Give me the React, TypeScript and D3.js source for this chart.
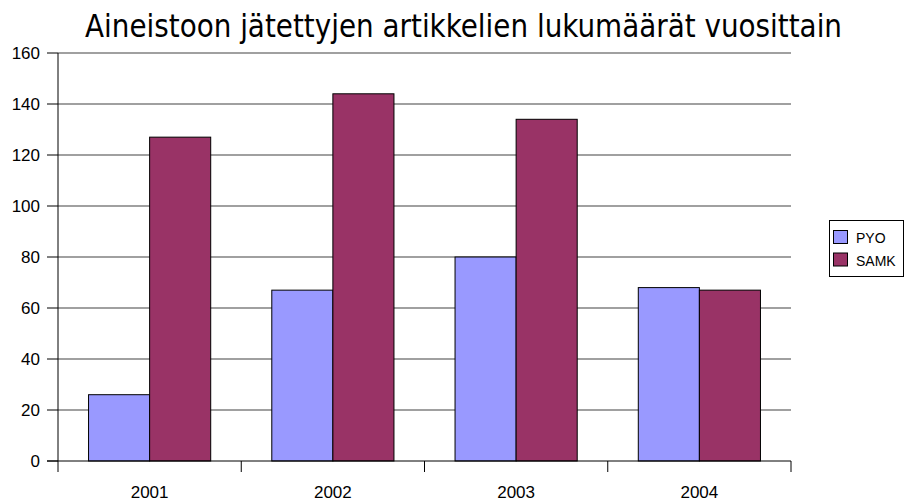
import React from 'react';
import * as d3 from 'd3';

const years = ['2001', '2002', '2003', '2004'];
const seriesNames = ['PYO', 'SAMK'];
const pyoValues = [26, 67, 80, 68];
const samkValues = [127, 144, 134, 67];
const yTicks = [0, 20, 40, 60, 80, 100, 120, 140, 160];
const colors = ['#9999FF', '#993366'];
const titleText = 'Aineistoon jätettyjen artikkelien lukumäärät vuosittain';

const W = 905;
const H = 502;
const plot = { left: 58, right: 791, top: 53, bottom: 461 };
const labelFont = '"Liberation Sans", Arial, sans-serif';

const App: React.FC = () => {
  const x0 = d3.scaleBand<string>().domain(years).range([plot.left, plot.right]).padding(0);
  const x1 = d3.scaleBand<string>().domain(seriesNames).range([0, x0.bandwidth()]).paddingInner(0).paddingOuter(0.5);
  const y = d3.scaleLinear().domain([0, 160]).range([plot.bottom, plot.top]);

  const rows = years.map((yr, i) => ({ year: yr, values: [pyoValues[i], samkValues[i]] }));
  const catEdges = [...years.map(yr => x0(yr)!), plot.right];

  return (
    <svg width={W} height={H} style={{ position: 'absolute', left: 0, top: 0, background: '#fff' }}>
      <text
        x={463.5}
        y={37}
        textAnchor="middle"
        fontFamily='"DejaVu Sans Condensed", "DejaVu Sans", sans-serif'
        fontSize={32}
        textLength={757}
        lengthAdjust="spacingAndGlyphs"
        fill="#000"
      >
        {titleText}
      </text>

      {/* gridlines */}
      {yTicks.filter(t => t > 0).map(t => (
        <line key={t} x1={plot.left} x2={plot.right} y1={y(t)} y2={y(t)} stroke="#808080" strokeWidth={1.5} />
      ))}

      {/* bars */}
      {rows.map(r => (
        <g key={r.year} transform={`translate(${x0(r.year)},0)`}>
          {r.values.map((v, j) => (
            <rect
              key={seriesNames[j]}
              x={x1(seriesNames[j])}
              y={y(v)}
              width={x1.bandwidth()}
              height={y(0) - y(v)}
              fill={colors[j]}
              stroke="#000"
              strokeWidth={1}
            />
          ))}
        </g>
      ))}

      {/* axes */}
      <line x1={plot.left} x2={plot.left} y1={plot.top} y2={plot.bottom} stroke="#000" />
      <line x1={47} x2={plot.right} y1={plot.bottom} y2={plot.bottom} stroke="#000" />
      {yTicks.map(t => (
        <g key={t}>
          <line x1={47} x2={plot.left} y1={y(t)} y2={y(t)} stroke="#000" />
          <text x={40} y={y(t) + 6} textAnchor="end" fontFamily={labelFont} fontSize={17} fill="#000">{t}</text>
        </g>
      ))}
      {catEdges.map((xe, i) => (
        <line key={i} x1={xe} x2={xe} y1={plot.bottom} y2={plot.bottom + 11} stroke="#000" />
      ))}
      {years.map(yr => (
        <text key={yr} x={x0(yr)! + x0.bandwidth() / 2} y={498} textAnchor="middle" fontFamily={labelFont} fontSize={17} fill="#000">{yr}</text>
      ))}

      {/* legend */}
      <rect x={829.5} y={220.5} width={74} height={56} fill="#fff" stroke="#000" />
      {seriesNames.map((s, i) => (
        <g key={s} transform={`translate(0,${i * 22.5})`}>
          <rect x={833.5} y={230.5} width={14} height={13} fill={colors[i]} stroke="#000" />
          <text x={856} y={243} fontFamily={labelFont} fontSize={14} fill="#000">{s}</text>
        </g>
      ))}
    </svg>
  );
};

export default App;
